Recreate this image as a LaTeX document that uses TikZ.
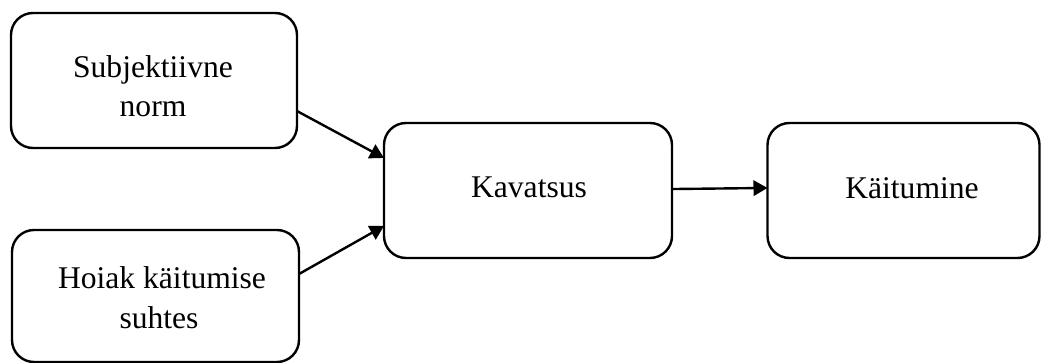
\documentclass[tikz,border=0pt]{standalone}
\usepackage{fontspec}
\setmainfont{Liberation Serif}
\usetikzlibrary{arrows.meta}
\begin{document}
\begin{tikzpicture}[x=0.75pt,y=-0.75pt,
  box/.style={draw=black, line width=1.8pt, rounded corners=16.5pt, inner sep=0pt, outer sep=0pt},
  lbl/.style={font=\fontsize{23.7}{29}\selectfont, anchor=base, inner sep=0pt},
  conn/.style={line width=1.8pt, -{Triangle[length=10.5pt,width=11.5pt]}}]
\useasboundingbox (0,0) rectangle (1041,363);
% boxes
\node[box, minimum width=214.5pt, minimum height=101.25pt] (b1) at (154,80.5) {};
\node[box, minimum width=215.25pt, minimum height=99pt] (b2) at (155.5,296) {};
\node[box, minimum width=216pt, minimum height=101.25pt] (b3) at (528,190.5) {};
\node[box, minimum width=204pt, minimum height=101.25pt] (b4) at (903.5,190.5) {};
% texts
\node[lbl] (t1a) at (153,77.5) {Subjektiivne};
\node[lbl] (t1b) at (153,116.5) {norm};
\node[lbl] (t2a) at (162,288) {Hoiak käitumise};
\node[lbl] (t2b) at (159,328) {suhtes};
\node[lbl] (t3) at (529,198) {Kavatsus};
\node[lbl] (t4) at (912,199) {Käitumine};
% connectors
\draw[conn] ([yshift=-22.9pt]b1.east) -- ([yshift=24.4pt]b3.west);
\draw[conn] ([yshift=16.5pt]b2.east) -- ([yshift=-26.6pt]b3.west);
\draw[conn] ([yshift=1.1pt]b3.east) -- ([yshift=1.9pt]b4.west);
\end{tikzpicture}
\end{document}
